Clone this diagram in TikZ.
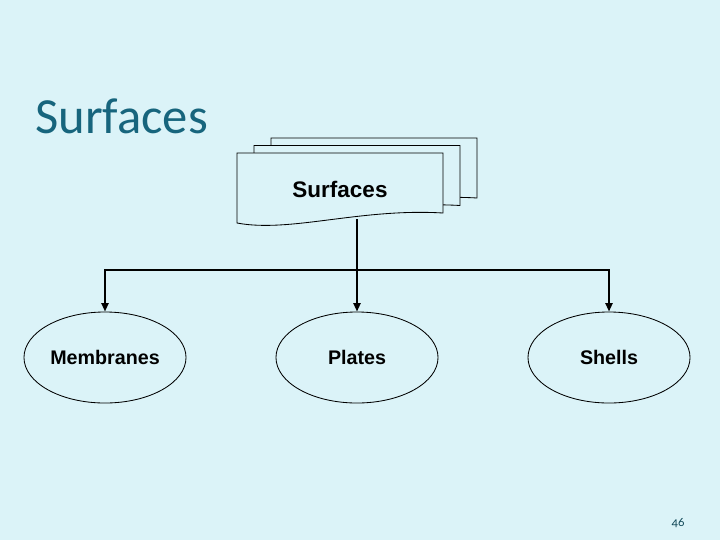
\documentclass[tikz,border=0pt]{standalone}
\usepackage{fontspec}
\setmainfont{Liberation Sans}
\newfontfamily\titlefont{Carlito}
\newfontfamily\numfont[Numbers=OldStyle]{Carlito}
\usetikzlibrary{arrows.meta,shapes.geometric}
\definecolor{slidebg}{RGB}{219,243,248}
\definecolor{titleteal}{RGB}{23,101,125}
\tikzset{
  box/.style={ellipse,draw,inner sep=0pt,line width=.6pt,minimum width=4.05cm,minimum height=2.275cm,font=\bfseries\fontsize{14}{16}\selectfont},
  link/.style={line width=1.4pt},
  tip/.style={link,-{Triangle[length=6pt,width=5pt]}}
}
\begin{document}
\begin{tikzpicture}[x=.025cm,y=-.025cm]
\fill[slidebg] (0,0) rectangle (720,540);
\useasboundingbox (0,0) rectangle (720,540);

% title:
\node[anchor=base west,inner sep=0,font=\titlefont\fontsize{36}{40}\selectfont,text=titleteal] (title) at (35,133) {Surfaces};

% documents:
\foreach \d in {2,1,0}
  \draw[line width=.6pt,fill=slidebg,shift={(17*\d,-7.5*\d)}]
    (237,223) -- (237,153) -- (443,153) -- (443,213) .. controls (360,208) and (290,233) .. (237,223) -- cycle;
\node[anchor=base,inner sep=0,font=\bfseries\fontsize{16}{19}\selectfont] (surf) at (340,197) {Surfaces};
\coordinate (docbot) at (357,219);
\coordinate (junc) at (357,270);

% ellipses:
\node[box] (mem) at (105,357.5) {Membranes};
\node[box] (pla) at (357,357.5) {Plates};
\node[box] (she) at (609,357.5) {Shells};

% connectors:
\draw[link] (docbot) -- (junc);
\draw[tip] (junc) -| (mem.north);
\draw[tip] (junc) -- (pla.north);
\draw[tip] (junc) -| (she.north);

% page number:
\node[font=\numfont\fontsize{9}{10}\selectfont,text=titleteal!70!black] (pagenum) at (678,523) {46};
\end{tikzpicture}
\end{document}
